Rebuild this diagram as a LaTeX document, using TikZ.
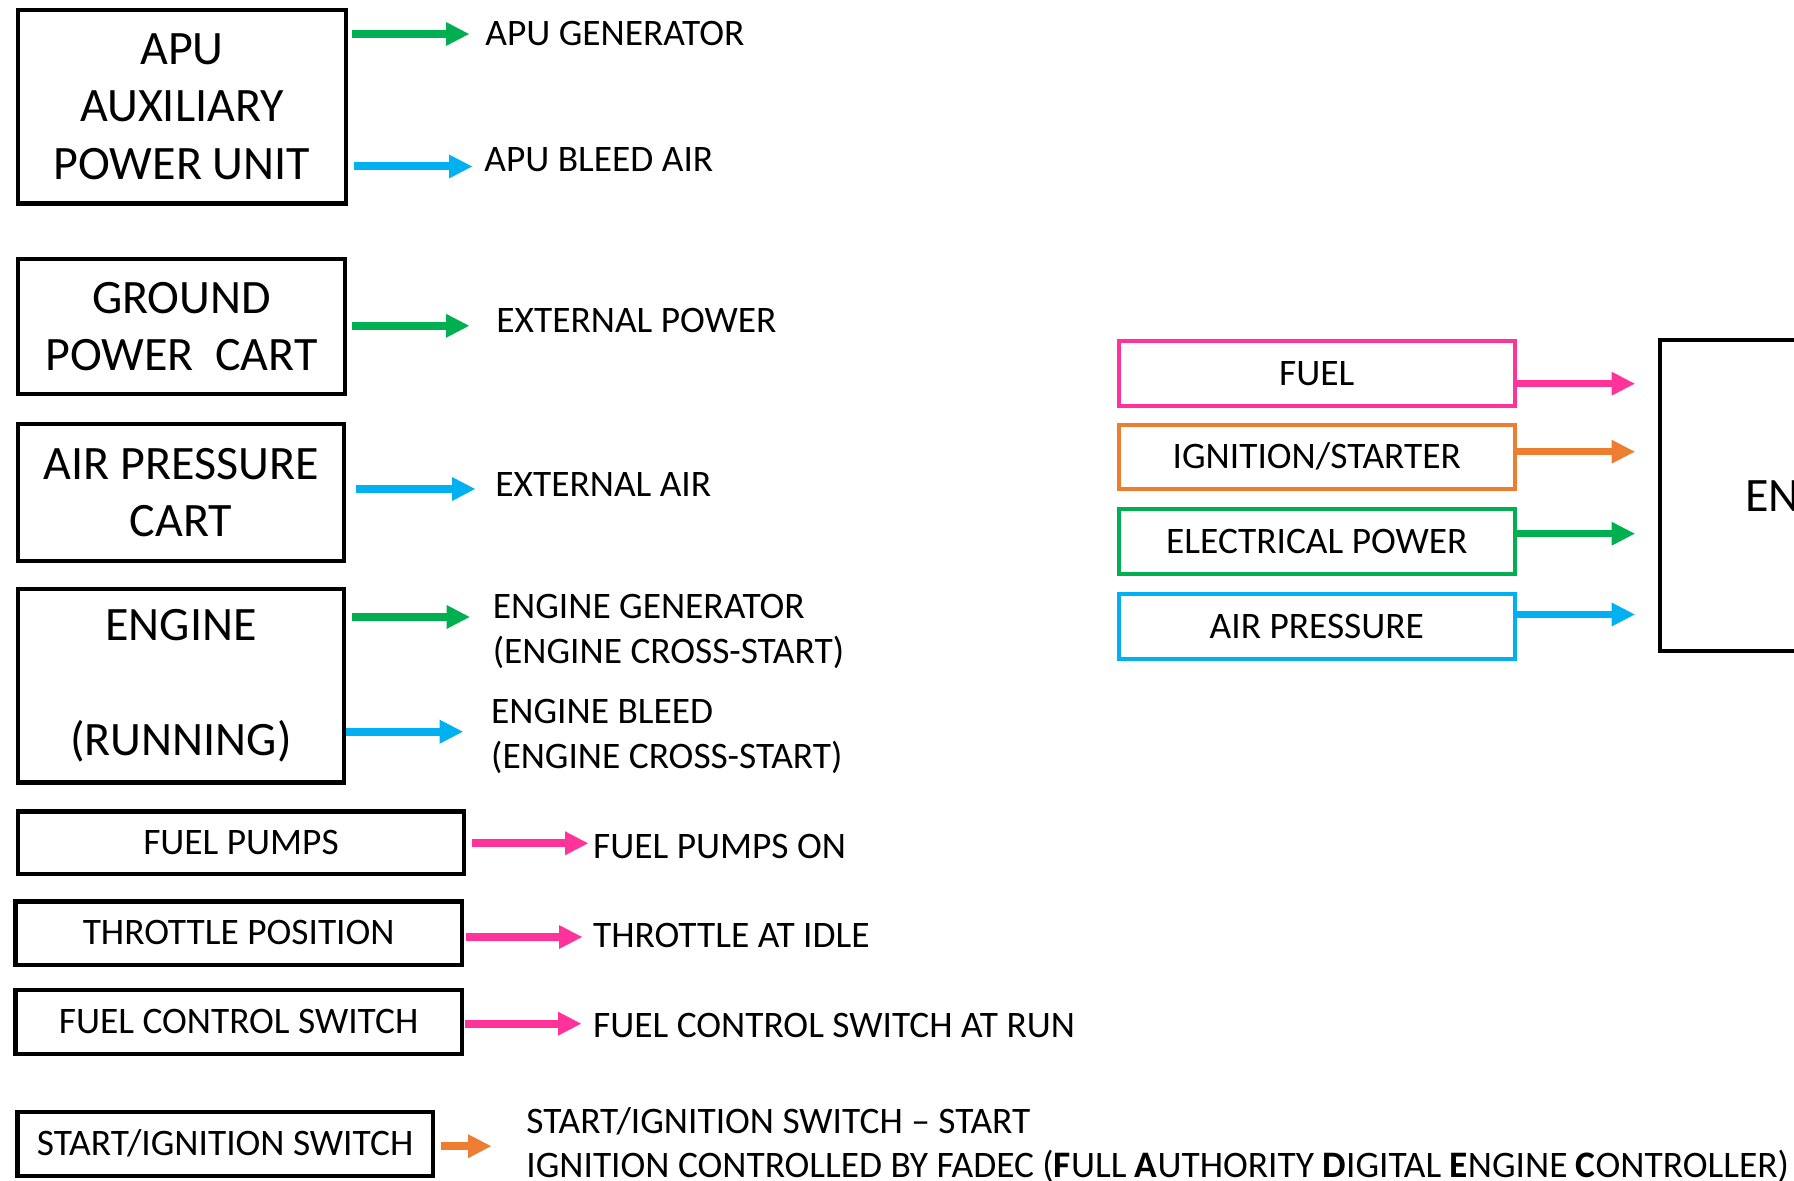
\documentclass[tikz,border=0pt]{standalone}
\usepackage{fontspec}
\setmainfont{Carlito}
\usetikzlibrary{arrows.meta}
\definecolor{cgreen}{HTML}{00B050}
\definecolor{cblue}{HTML}{00B0F0}
\definecolor{cpink}{HTML}{FF3399}
\definecolor{corange}{HTML}{ED7D31}
\begin{document}
\begin{tikzpicture}[x=0.5pt,y=-0.5pt,
  bigbox/.style={draw=black, line width=2.2pt, inner sep=0pt, align=center, font=\fontsize{24}{28.6}\selectfont},
  smallbox/.style={draw=black, line width=2.2pt, inner sep=0pt, font=\fontsize{18.7}{22.8}\selectfont, text height=11.8pt, text depth=0pt},
  cbox/.style={draw=#1, line width=2pt, inner sep=0pt, minimum width=198.1pt, minimum height=32.35pt, font=\fontsize{18.7}{22.8}\selectfont, text height=11.8pt, text depth=0pt},
  lbl/.style={anchor=base west, inner sep=0pt, font=\fontsize{18.7}{22.8}\selectfont},
  flow/.style={draw=#1, line width=4pt, -{Triangle[length=11.5pt,width=12pt,line width=0pt]}},
  rflow/.style={draw=#1, line width=3.7pt, -{Triangle[length=11.5pt,width=12pt,line width=0pt]}},
]
\useasboundingbox (0,0) rectangle (1794,1181);
\fill[white] (0,0) rectangle (1794,1181);
\clip (0,0) rectangle (1794,1181);

% left boxes
\node[bigbox, minimum width=164pt, minimum height=96.75pt] (apu) at (182,106.75) {APU\\AUXILIARY\\POWER UNIT};
\node[bigbox, minimum width=163.5pt, minimum height=67.5pt] (gpc) at (181.5,326.5) {GROUND\\POWER\ \ CART};
\node[bigbox, minimum width=163pt, minimum height=68.3pt] (apc) at (181,492.5) {AIR PRESSURE\\CART};
\node[bigbox, minimum width=163pt, minimum height=96.75pt] (eng) at (181,685.75) {ENGINE\\\mbox{}\\(RUNNING)};
\node[smallbox, minimum width=222.75pt, minimum height=31.45pt] (fp) at (241,842.75) {FUEL PUMPS};
\node[smallbox, minimum width=223.3pt, minimum height=31.85pt] (tp) at (238.7,933.15) {THROTTLE POSITION};
\node[smallbox, minimum width=223.3pt, minimum height=31.75pt] (fcs) at (238.7,1022) {FUEL CONTROL SWITCH};
\node[smallbox, minimum width=207.65pt, minimum height=32pt] (sis) at (225.15,1144) {START/IGNITION SWITCH};

% right boxes
\node[cbox=cpink] (fuel) at (1316.8,373.65) {FUEL};
\node[cbox=corange] (ign) at (1316.8,457) {IGNITION/STARTER};
\node[cbox=cgreen] (elec) at (1316.8,541.65) {ELECTRICAL POWER};
\node[cbox=cblue] (air) at (1316.8,626.85) {AIR PRESSURE};
\node[bigbox, line width=2pt, minimum width=161pt, minimum height=155.4pt] (engine) at (1821,495.9) {ENGINE};

% arrow tips
\coordinate (t1) at (469,34);
\coordinate (t2) at (472,166.5);
\coordinate (t3) at (469,325.8);
\coordinate (t4) at (475,489);
\coordinate (t5) at (469.6,617);
\coordinate (t6) at (462.7,731.7);
\coordinate (t7) at (588,843.3);
\coordinate (t8) at (582,937);
\coordinate (t9) at (581,1023.7);
\coordinate (t10) at (491,1146.2);
\coordinate (r1) at (1634.6,383.7);
\coordinate (r2) at (1634.6,451.7);
\coordinate (r3) at (1634.6,533.7);
\coordinate (r4) at (1634.6,614.5);

% left arrows
\draw[flow=cgreen, shorten <=2pt] (apu.east |- t1) -- (t1);
\draw[flow=cblue, shorten <=3pt] (apu.east |- t2) -- (t2);
\draw[flow=cgreen, shorten <=2.5pt] (gpc.east |- t3) -- (t3);
\draw[flow=cblue, shorten <=5pt] (apc.east |- t4) -- (t4);
\draw[flow=cgreen, shorten <=3pt] (eng.east |- t5) -- (t5);
\draw[flow=cblue] (eng.east |- t6) -- (t6);
\draw[flow=cpink, shorten <=3pt] (fp.east |- t7) -- (t7);
\draw[flow=cpink, shorten <=1pt] (tp.east |- t8) -- (t8);
\draw[flow=cpink, shorten <=0.5pt] (fcs.east |- t9) -- (t9);
\draw[flow=corange, shorten <=2.8pt] (sis.east |- t10) -- (t10);

% right arrows
\draw[rflow=cpink] (fuel.east |- r1) -- (r1);
\draw[rflow=corange] (ign.east |- r2) -- (r2);
\draw[rflow=cgreen] (elec.east |- r3) -- (r3);
\draw[rflow=cblue] (air.east |- r4) -- (r4);

% labels
\node[lbl] (l1) at (485,46) {APU GENERATOR};
\node[lbl] (l2) at (484,171.4) {APU BLEED AIR};
\node[lbl] (l3) at (496,333) {EXTERNAL POWER};
\node[lbl] (l4) at (495,496.4) {EXTERNAL AIR};
\node[lbl] (l5a) at (492.5,618.9) {ENGINE GENERATOR};
\node[lbl] (l5b) at (492.5,663) {(ENGINE CROSS-START)};
\node[lbl] (l6a) at (490.8,723.9) {ENGINE BLEED};
\node[lbl] (l6b) at (490.8,768) {(ENGINE CROSS-START)};
\node[lbl] (l7) at (592.8,858) {FUEL PUMPS ON};
\node[lbl] (l8) at (592.8,947.2) {THROTTLE AT IDLE};
\node[lbl] (l9) at (592.8,1037.4) {FUEL CONTROL SWITCH AT RUN};
\node[lbl] (l10a) at (526,1133) {START/IGNITION SWITCH – START};
\node[lbl] (l10b) at (526,1177) {IGNITION CONTROLLED BY FADEC (\textbf{F}ULL \textbf{A}UTHORITY \textbf{D}IGITAL \textbf{E}NGINE \textbf{C}ONTROLLER)};
\end{tikzpicture}
\end{document}
